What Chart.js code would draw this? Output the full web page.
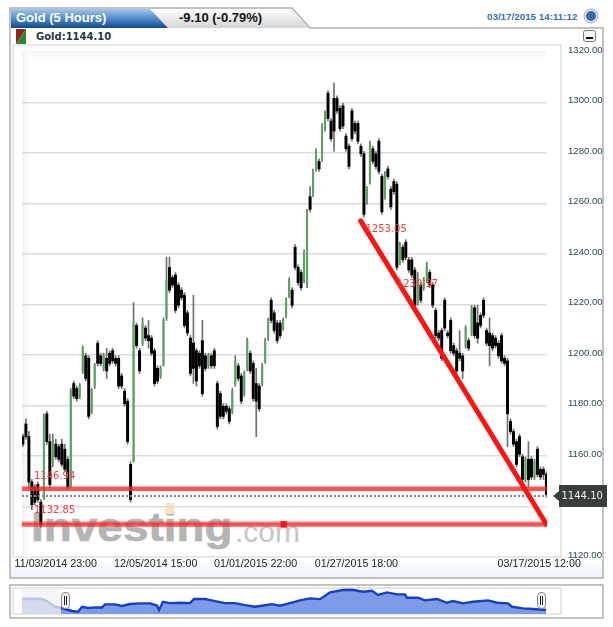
<!DOCTYPE html>
<html>
<head>
<meta charset="utf-8">
<script src="https://cdn.jsdelivr.net/npm/chart.js@4/dist/chart.umd.min.js"></script>
<style>
  html, body { margin: 0; padding: 0; background: #fff; width: 613px; height: 627px; overflow: hidden; }
  .abs { position: absolute; white-space: nowrap; }
  #main { position: absolute; left: 0; top: 0; z-index: 3; }
  #nav { position: absolute; left: 22px; top: 588px; z-index: 3; }
  .handle { position: absolute; top: 592px; width: 7px; height: 15px; background: #f4f4f4; border: 1px solid #888; border-radius: 4px; z-index: 4; }
  .handle i { position: absolute; top: 3px; width: 1px; height: 9px; background: #222; }
</style>
</head>
<body>
<svg class="abs" style="left:0;top:0;z-index:0" width="613" height="627">
  <defs>
    <linearGradient id="blueTab" x1="0" y1="0" x2="0" y2="1">
      <stop offset="0" stop-color="#a3c5e8"/><stop offset="0.45" stop-color="#5b92cd"/><stop offset="1" stop-color="#0c4b91"/>
    </linearGradient>
    <linearGradient id="grayTab" x1="0" y1="0" x2="0" y2="1">
      <stop offset="0" stop-color="#ffffff"/><stop offset="1" stop-color="#d4d4d4"/>
    </linearGradient>
    <linearGradient id="strip" x1="0" y1="0" x2="0" y2="1">
      <stop offset="0" stop-color="#ffffff"/><stop offset="1" stop-color="#edf2f9"/>
    </linearGradient>
    <linearGradient id="softLeft" x1="0" y1="0" x2="1" y2="0">
      <stop offset="0" stop-color="#f2f2f2"/><stop offset="1" stop-color="#ffffff"/>
    </linearGradient>
    <linearGradient id="softTop" x1="0" y1="0" x2="0" y2="1">
      <stop offset="0" stop-color="#f4f4f4"/><stop offset="1" stop-color="#ffffff"/>
    </linearGradient>
  </defs>
  <path d="M10 578 V8 H292 L310 28 H603 V578 Z" fill="#fff" stroke="#aeaeae" stroke-width="1.5"/>
  <rect x="11" y="557" width="591" height="20" fill="url(#strip)"/>
  <polygon points="150,9 292,9 309,28 168,28" fill="url(#grayTab)"/>
  <polygon points="11,9 150,9 168,28 11,28" fill="url(#blueTab)"/>
  <polygon points="16,29 26,29 16,44" fill="#9a2020"/>
  <polygon points="26,29 26,44 16,44" fill="#2a8a2a"/>
  <rect x="13" y="45" width="548" height="512" fill="#fff" stroke="#cfcfcf" stroke-width="1"/>
  <rect x="22" y="51" width="525" height="9" fill="url(#softTop)"/>
  <rect x="22" y="51" width="9" height="506" fill="url(#softLeft)"/>
  <rect x="583.5" y="30.5" width="12" height="11" rx="2" fill="#f4f4f4" stroke="#777"/>
  <rect x="586" y="37" width="7" height="2" fill="#111"/>
  <circle cx="591" cy="16" r="7" fill="#dfe5ee" stroke="#aaa"/>
  <circle cx="591" cy="16" r="5" fill="#3d68ad"/>
  <rect x="10" y="585" width="593" height="33" fill="#fff" stroke="#aeaeae" stroke-width="1.5"/>
  <rect x="13" y="588" width="548" height="26" fill="#fff" stroke="#cfcfcf" stroke-width="1"/>
</svg>

<div class="abs" style="left:16px;top:9px;z-index:1;font:bold 13px 'Liberation Sans';color:#fff;line-height:18px">Gold (5 Hours)</div>
<div class="abs" style="left:179px;top:9px;z-index:1;font:bold 13px 'Liberation Sans';color:#111;line-height:18px">-9.10 (-0.79%)</div>
<div class="abs" style="left:487px;top:10px;z-index:1;font:bold 9.8px 'Liberation Sans';color:#2f72b8;line-height:13px">03/17/2015 14:11:12</div>
<div class="abs" style="left:36px;top:30px;z-index:1;font:bold 10px 'DejaVu Sans';color:#1d3a44;line-height:13px">Gold:1144.10</div>

<div class="abs" style="left:31px;top:501px;z-index:1;font:bold 41px 'Liberation Sans';color:#b4b4b4;line-height:53px;transform:scaleX(1.12);transform-origin:left;-webkit-text-stroke:0.6px #b4b4b4">Investing</div>
<div class="abs" style="left:235px;top:509px;z-index:1;font:30px 'Liberation Sans';color:#c6c6c6;line-height:46px">.com</div>
<div class="abs" style="left:165px;top:503px;width:9px;height:11px;z-index:2;background:#fbe3bd;transform:skewX(-12deg)"></div>

<canvas id="main" width="613" height="627"></canvas>
<canvas id="nav" width="525" height="26"></canvas>
<div class="handle" style="left:61px"><i style="left:2px"></i><i style="left:4px"></i></div>
<div class="handle" style="left:537px"><i style="left:2px"></i><i style="left:4px"></i></div>

<script>
// bars
const highs = [
  1168,1174,1169,1150,1148,1149,1142,1176,1177,1168,
  1168,1166,1164,1166,1164,1159,1186,1189,1187,1188,
  1203,1200,1199,1186,1196,1205,1200,1200,1202,1201,
  1202,1199,1199,1192,1186,1182,1157,1220,1212,1202,
  1214,1211,1213,1207,1202,1195,1195,1214,1238,1238,
  1231,1232,1228,1226,1224,1217,1207,1223,1202,1201,
  1213,1200,1200,1200,1202,1189,1185,1180,1180,1179,
  1186,1199,1196,1192,1193,1206,1201,1197,1194,1188,
  1196,1206,1214,1222,1217,1213,1213,1214,1222,1230,
  1226,1243,1235,1233,1241,1257,1266,1273,1281,1277,
  1291,1296,1304,1293,1307,1302,1298,1299,1287,1283,
  1297,1292,1292,1283,1280,1266,1284,1282,1280,1285,
  1271,1272,1274,1266,1269,1268,1244,1243,1245,1238,
  1238,1234,1232,1228,1230,1236,1233,1228,1218,1209,
  1210,1222,1209,1214,1204,1202,1209,1200,1211,1206,
  1219,1219,1219,1216,1222,1210,1214,1208,1207,1205,
  1208,1199,1198,1174,1170,1166,1168,1160,1159,1165,
  1159,1158,1163,1155,1155,1153
];
const lows = [
  1163,1166,1147,1138,1140,1141,1131,1142,1164,1147,
  1155,1158,1157,1155,1153,1146,1147,1182,1181,1182,
  1192,1189,1174,1176,1186,1195,1195,1193,1190,1195,
  1196,1195,1186,1186,1179,1164,1141,1157,1202,1192,
  1203,1205,1202,1199,1187,1188,1190,1195,1213,1224,
  1226,1216,1218,1221,1210,1207,1191,1188,1187,1194,
  1183,1193,1194,1194,1194,1170,1174,1174,1176,1172,
  1176,1187,1189,1180,1183,1193,1192,1181,1167,1177,
  1187,1196,1205,1212,1208,1204,1206,1209,1214,1222,
  1218,1233,1227,1225,1228,1226,1256,1262,1272,1272,
  1276,1288,1292,1284,1280,1295,1288,1289,1280,1273,
  1284,1287,1283,1278,1254,1259,1267,1275,1273,1271,
  1255,1261,1269,1257,1263,1233,1235,1236,1237,1232,
  1230,1218,1219,1220,1225,1228,1226,1218,1206,1205,
  1197,1209,1206,1200,1199,1192,1197,1190,1202,1201,
  1207,1206,1204,1210,1214,1203,1195,1201,1202,1198,
  1196,1195,1163,1168,1163,1155,1159,1149,1149,1147,
  1150,1150,1151,1150,1150,1143
];
const opens = [
  1167,1172,1167,1149,1147,1148,1141,1142,1176,1165,
  1157,1164,1163,1164,1162,1158,1147,1188,1186,1183,
  1193,1199,1198,1177,1187,1204,1199,1194,1198,1200,
  1201,1198,1198,1191,1185,1181,1156,1157,1211,1201,
  1204,1210,1207,1206,1201,1194,1191,1195,1214,1234,
  1230,1231,1227,1225,1223,1216,1206,1204,1201,1200,
  1205,1199,1195,1199,1201,1188,1184,1179,1179,1178,
  1177,1188,1195,1191,1184,1194,1200,1196,1188,1187,
  1188,1197,1206,1221,1216,1212,1212,1210,1215,1223,
  1225,1242,1234,1232,1229,1228,1262,1263,1273,1276,
  1277,1289,1303,1292,1301,1301,1297,1298,1286,1282,
  1296,1291,1291,1282,1279,1260,1268,1281,1279,1284,
  1270,1262,1273,1265,1268,1267,1236,1242,1244,1237,
  1237,1233,1220,1227,1226,1229,1232,1227,1217,1208,
  1209,1221,1208,1213,1203,1201,1200,1199,1203,1205,
  1208,1218,1212,1215,1221,1209,1208,1207,1206,1204,
  1207,1198,1197,1173,1169,1165,1167,1159,1150,1158,
  1158,1151,1162,1154,1154,1152
];
const closes = [
  1164,1167,1149,1140,1141,1142,1132,1175,1165,1148,
  1166,1159,1158,1156,1154,1147,1185,1183,1182,1187,
  1202,1190,1175,1185,1195,1196,1196,1199,1193,1196,
  1197,1196,1187,1187,1180,1165,1142,1212,1203,1193,
  1212,1206,1205,1200,1188,1189,1194,1213,1229,1225,
  1227,1217,1219,1222,1211,1208,1192,1194,1189,1195,
  1184,1194,1199,1195,1195,1171,1175,1175,1177,1173,
  1185,1197,1190,1181,1192,1205,1193,1182,1181,1178,
  1195,1205,1213,1213,1209,1205,1207,1213,1221,1229,
  1219,1234,1228,1226,1240,1256,1257,1272,1280,1273,
  1290,1295,1293,1285,1288,1296,1289,1290,1281,1274,
  1285,1288,1284,1279,1255,1265,1283,1276,1274,1272,
  1256,1271,1270,1258,1264,1234,1243,1237,1238,1233,
  1231,1219,1229,1221,1229,1234,1227,1219,1207,1206,
  1198,1210,1207,1201,1200,1193,1198,1193,1210,1202,
  1218,1207,1206,1211,1215,1204,1203,1202,1203,1199,
  1197,1196,1176,1169,1164,1156,1160,1150,1158,1150,
  1151,1157,1152,1151,1152,1144.1
];
// the columns above were read a touch low against the gridlines
const readBias = 0.6;

const yTicks = [1120,1140,1160,1180,1200,1220,1240,1260,1280,1300,1320];
const xTickPositions = [11, 44.4, 77.8, 111.5, 172.6];
const xTickLabels = ['11/03/2014 23:00','12/05/2014 15:00','01/01/2015 22:00','01/27/2015 18:00','03/17/2015 12:00'];

// drawn tools
const lastPrice = 1144.10;
const upperLevel = 1146.94;
const lowerLevel = 1132.85;
const trendIdx = [112.9, 175];
const trendPrice = [1253.05, 1132.85];
const toolLabels = ['1253.05','1230.97','1146.94','1132.85'];
const toolLabelIdx = [114.5, 125, 3.7, 3.7];
const toolLabelPrice = [1249.8, 1228, 1152, 1138.2];

// navigator strip
const navPos = [0,10,20,26,33,39,43,50,56,60,66,73,80,83,93,100,108,118,128,135,137,141,148,158,168,172,183,193,203,213,223,233,240,250,258,268,278,288,298,308,321,330,341,350,356,365,375,383,385,396,403,415,425,431,441,451,466,475,486,490,501,511,524];
const navValues = [1233,1235,1233,1211,1171,1163,1153,1137,1131,1171,1161,1166,1165,1190,1190,1177,1193,1198,1198,1181,1145,1211,1200,1203,1200,1233,1233,1216,1200,1200,1184,1171,1179,1192,1179,1200,1222,1238,1232,1286,1305,1307,1291,1299,1265,1286,1270,1270,1243,1243,1222,1233,1203,1217,1198,1211,1222,1203,1198,1171,1158,1153,1145];

const wicks = highs.map((h, i) => ({x: i, y: [lows[i] + readBias, h + readBias]}));
const downBodies = opens.map((o, i) => closes[i] < o ? {x: i, y: [closes[i] + readBias, o + readBias]} : null).filter(Boolean);
const upBodies = opens.map((o, i) => closes[i] >= o ? {x: i, y: [o + readBias, closes[i] + readBias]} : null).filter(Boolean);

const toolLabelsPlugin = {
  id: 'toolLabels',
  afterDatasetsDraw(chart) {
    const {ctx, scales: {x, y}} = chart;
    ctx.save();
    ctx.font = "10px 'DejaVu Sans'";
    ctx.fillStyle = '#ff3a3a';
    ctx.textAlign = 'left';
    ctx.textBaseline = 'middle';
    toolLabels.forEach((t, i) => ctx.fillText(t, x.getPixelForValue(toolLabelIdx[i]), y.getPixelForValue(toolLabelPrice[i])));
    ctx.restore();
  }
};

// the dark price flag on the axis
const priceFlagPlugin = {
  id: 'priceFlag',
  afterDraw(chart) {
    const {ctx, scales: {y}} = chart;
    const py = Math.round(y.getPixelForValue(lastPrice));
    ctx.save();
    ctx.fillStyle = '#3a3d3d';
    ctx.beginPath();
    ctx.moveTo(553, py);
    ctx.lineTo(559, py - 5);
    ctx.lineTo(559, py - 11);
    ctx.lineTo(607, py - 11);
    ctx.lineTo(607, py + 11);
    ctx.lineTo(559, py + 11);
    ctx.lineTo(559, py + 5);
    ctx.closePath();
    ctx.fill();
    ctx.font = "10px 'DejaVu Sans'";
    ctx.fillStyle = '#eeeeee';
    ctx.textBaseline = 'middle';
    ctx.fillText(lastPrice.toFixed(2), 561.5, py + 0.5);
    ctx.restore();
  }
};

const flat = (v) => [{x: -0.3, y: v}, {x: 175, y: v}];

new Chart(document.getElementById('main'), {
  type: 'bar',
  plugins: [toolLabelsPlugin, priceFlagPlugin],
  data: {
    datasets: [
      {type: 'line', data: [{x: trendIdx[0], y: trendPrice[0]}, {x: trendIdx[1], y: trendPrice[1]}], borderColor: '#ff1212', borderWidth: 5, borderCapStyle: 'round', pointRadius: 0, order: 0},
      {type: 'line', data: [{x: 87.2, y: lowerLevel}], pointStyle: 'rect', pointRadius: 4.5, pointBackgroundColor: '#ff1212', pointBorderWidth: 0, showLine: false, order: 0},
      {type: 'line', data: flat(upperLevel), borderColor: 'rgba(255,40,40,0.8)', borderWidth: 4.5, pointRadius: 0, order: 1},
      {type: 'line', data: flat(lowerLevel), borderColor: 'rgba(255,40,40,0.6)', borderWidth: 5.5, pointRadius: 0, order: 1},
      {type: 'line', data: flat(lowerLevel), borderColor: 'rgba(235,30,30,0.55)', borderWidth: 2.5, pointRadius: 0, order: 1},
      {type: 'line', data: flat(lastPrice), borderColor: '#858585', borderWidth: 2, borderDash: [2, 2], pointRadius: 0, order: 1},
      {data: downBodies, backgroundColor: '#000', barThickness: 2.3, grouped: false, order: 2},
      {data: upBodies, backgroundColor: '#57a75c', barThickness: 1.4, grouped: false, order: 3},
      {data: wicks, backgroundColor: '#6f6f6f', barThickness: 1, grouped: false, order: 4}
    ]
  },
  options: {
    responsive: false,
    animation: false,
    layout: {padding: {left: 22, top: 45, right: 0, bottom: 0}},
    plugins: {legend: {display: false}, tooltip: {enabled: false}},
    scales: {
      x: {
        type: 'linear', offset: false, min: -0.3, max: 175.2,
        grid: {display: false, drawTicks: false}, border: {display: false},
        afterFit: (s) => { s.height = 70; },
        afterBuildTicks: (s) => { s.ticks = xTickPositions.map((v) => ({value: v})); },
        ticks: {
          autoSkip: false, maxRotation: 0, padding: 1, color: '#222',
          font: {family: "'Liberation Sans'", size: 10.7},
          callback: (v, i) => xTickLabels[i]
        }
      },
      y: {
        position: 'right', min: 1119.9, max: 1322.7,
        grid: {
          lineWidth: 1.5, drawTicks: false,
          color: (c) => (c.tick.value === 1320 || c.tick.value === 1120) ? 'rgba(0,0,0,0)' : '#dcdcdc'
        },
        border: {display: false},
        afterFit: (s) => { s.width = 66; },
        afterBuildTicks: (s) => { s.ticks = yTicks.map((v) => ({value: v})); },
        ticks: {
          autoSkip: false, padding: 21, labelOffset: -1.5, color: '#2c4a55',
          font: {family: "'Liberation Sans'", size: 9.6},
          callback: (v) => v.toFixed(2)
        }
      }
    }
  }
});

// greyed part of the navigator, left of the handle
const navMaskPlugin = {
  id: 'navMask',
  afterDatasetsDraw(chart) {
    const {ctx, scales: {x}, chartArea} = chart;
    ctx.save();
    ctx.fillStyle = 'rgba(240,240,240,0.75)';
    ctx.fillRect(chartArea.left, chartArea.top, x.getPixelForValue(39) - chartArea.left, chartArea.height);
    ctx.restore();
  }
};

new Chart(document.getElementById('nav'), {
  type: 'line',
  plugins: [navMaskPlugin],
  data: {
    datasets: [{
      data: navPos.map((p, i) => ({x: p, y: navValues[i]})),
      borderColor: '#143fc6', borderWidth: 2.4, backgroundColor: '#7f9ae6',
      fill: 'start', pointRadius: 0, tension: 0
    }]
  },
  options: {
    responsive: false,
    animation: false,
    plugins: {legend: {display: false}, tooltip: {enabled: false}},
    scales: {
      x: {type: 'linear', min: 0, max: 525, display: false},
      y: {min: 1113, max: 1321, display: false}
    }
  }
});
</script>
</body>
</html>
